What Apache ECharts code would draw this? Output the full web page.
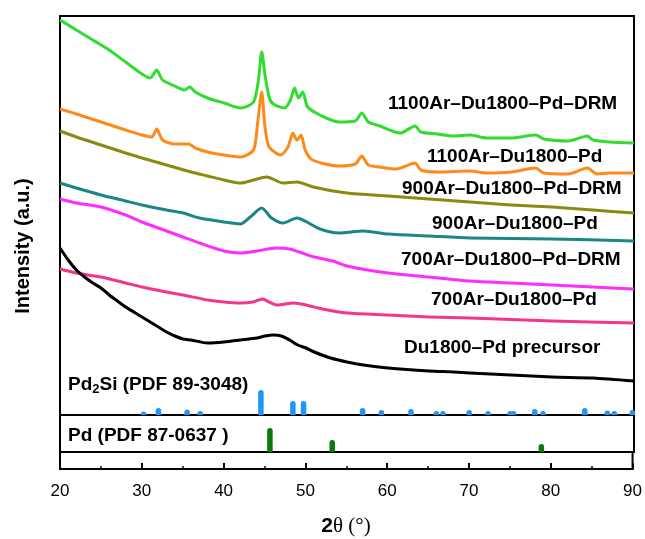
<!DOCTYPE html>
<html>
<head>
<meta charset="utf-8">
<script src="https://cdn.jsdelivr.net/npm/echarts@6/dist/echarts.min.js"></script>
<style>
html,body{margin:0;padding:0;background:#fff;}
#chart{width:645px;height:539px;}
</style>
</head>
<body>
<div id="chart"></div>
<script>
// [2θ (deg), intensity (a.u., offset-stacked)]
const s1100DRM = [[20,395],[22,385],[24,375],[26,365],[28,353],[30,341],[31,337],[31.8,345],[32.5,335],[34,329],[35.2,325],[35.8,328],[36.5,323],[38,317],[40,312],[42,307],[43.6,313],[44.2,335],[44.6,363],[45.0,340],[45.5,318],[46,311],[47.4,307],[48.1,315],[48.6,327],[49.1,317],[49.6,323],[50.2,308],[51.7,300],[54,293],[56,294],[56.8,302],[57.6,293],[59,289],[61.5,282],[63.3,289],[64,283],[66,281],[68,279],[70,280],[72,277],[75,277],[78,280],[79,276],[82,274],[84.3,279],[85,275],[87,273],[90,272]];
const s1100 = [[20,306],[22,301],[25,293],[28,285],[30,280],[31.2,278],[31.8,286],[32.5,275],[34,271],[35.7,271],[36.5,267],[38,263],[40,260],[42,258],[43.6,265],[44.1,292],[44.6,323],[45.0,288],[45.5,268],[46.9,260],[47.8,268],[48.4,282],[48.9,275],[49.4,280],[49.9,265],[50.8,255],[54,249],[56,251],[56.8,259],[57.6,250],[59,248],[61,246],[63.3,252],[64,245],[66,243],[70,244],[72,242],[75,243],[78,247],[79,242],[82,241],[84.3,247],[85.5,241],[87,242],[90,242]];
const s900DRM = [[20,284],[22,278],[25,270],[28,262],[30,257],[33,250],[36,243],[38,239],[40,235],[42,232],[45.2,238],[47.2,232],[48.9,233],[50.9,228],[55,222],[60,219],[65,216],[70,213],[75,210],[80,208],[85,205],[90,202]];
const s900 = [[20,232],[22,227],[25,220],[28,214],[30,210],[33,205],[35,202],[37,197],[40,193],[42,191],[43.2,198],[44.6,207],[45.8,197],[47.2,192],[48.9,197],[50.1,193],[51.7,186],[54,182],[57,184],[60,181],[65,179],[70,177],[80,176],[90,174]];
const s700DRM = [[20,216],[22,212],[25,208],[28,200],[30,193],[33,184],[35,178],[37,172],[40,164],[42,162],[44,164],[46.4,167],[48,166],[49.2,163],[51,158],[53.3,154],[55,149],[60,142],[65,138],[70,134],[75,132],[80,130],[85,128],[90,126]];
const s700 = [[20,146],[22,142],[25,138],[28,132],[30,128],[33,123],[35,120],[38,115],[40,113],[42,112],[43.5,113],[44.7,116],[45.5,113],[46.5,110],[48.5,112],[50,110],[52,106],[55,102],[60,100],[65,98],[70,97],[80,94],[90,92]];
const sPrecursor = [[20,167],[21,155],[22,145],[23,138],[24,132],[25,127],[26,120],[27,114],[28,108],[29,103],[30,98],[31,93],[32,88],[33,83],[34,79],[35,76],[36,75],[38,72],[40,73],[42,75],[44,77],[45,79],[46,80],[47,79],[48,75],[49,70],[50,67],[51,63],[53,57],[55,53],[57,50],[60,47],[65,44],[68,43],[70,42],[75,40],[80,38],[85,37],[90,34]];
// reference stick patterns
const pd2siSticks = [[30.2,3.5],[32.0,7],[35.5,5.5],[37.1,4],[44.5,25],[48.4,14],[49.7,14],[56.9,7],[59.2,5],[62.8,6],[65.9,4],[66.7,4],[69.9,5],[72.2,4],[74.9,4],[75.3,4],[77.9,6],[78.9,4],[84.0,7],[86.75,4.5],[87.6,4],[89.8,5]];
const pdSticks = [[45.6,24],[53.2,12],[78.7,8]];
const xTicks = [20,30,40,50,60,70,80,90];
const seriesNames = ['1100Ar–Du1800–Pd–DRM','1100Ar–Du1800–Pd','900Ar–Du1800–Pd–DRM','900Ar–Du1800–Pd','700Ar–Du1800–Pd–DRM','700Ar–Du1800–Pd','Du1800–Pd precursor'];
const refNames = ['Pd2Si (PDF 89-3048)','Pd (PDF 87-0637 )'];

const chart = echarts.init(document.getElementById('chart'));
const colors = ['#2fdc2f','#ff8a1c','#8a8a10','#1c8585','#ff2cff','#f5348c','#000000'];
const curves = [s1100DRM,s1100,s900DRM,s900,s700DRM,s700,sPrecursor];
const labelPos = [[388,104],[427,157],[402,189],[432,224],[401,260],[431,300],[404,348]];
const FONT = '"Liberation Sans", Arial, sans-serif';

const series = curves.map((d,i)=>({
  type:'line', name:seriesNames[i], data:d, xAxisIndex:0, yAxisIndex:0,
  showSymbol:false, smooth:0.25,
  lineStyle:{color:colors[i], width:3, join:'round'}, z:3
}));
series.push({type:'bar', name:refNames[0], data:pd2siSticks, xAxisIndex:0, yAxisIndex:0, barWidth:5.5,
  itemStyle:{color:'#1e98f5', borderRadius:[2.7,2.7,0,0]}, z:2});
series.push({type:'bar', name:refNames[1], data:pdSticks, xAxisIndex:1, yAxisIndex:1, barWidth:5.5,
  itemStyle:{color:'#0a7a0a', borderRadius:[2.7,2.7,0,0]}, z:2});

const graphics = seriesNames.map((n,i)=>({
  type:'text', x:labelPos[i][0], y:labelPos[i][1], z:10,
  style:{text:n, fill:'#000', font:'bold 19px '+FONT, textVerticalAlign:'middle'}
}));
graphics.push({type:'text', x:68, y:385, z:10,
  style:{text:'{a|Pd}{s|2}{a|Si (PDF 89-3048)}', fill:'#000', textVerticalAlign:'middle',
    rich:{a:{fontSize:19, fontWeight:'bold', fontFamily:FONT, lineHeight:22},
          s:{fontSize:13, fontWeight:'bold', fontFamily:FONT, lineHeight:13, verticalAlign:'bottom'}}}});
graphics.push({type:'text', x:68, y:436, z:10,
  style:{text:refNames[1], fill:'#000', font:'bold 19px '+FONT, textVerticalAlign:'middle'}});
graphics.push({type:'text', x:23, y:246, rotation:Math.PI/2, z:10,
  style:{text:'Intensity (a.u.)', fill:'#000', font:'bold 20px '+FONT, textAlign:'center', textVerticalAlign:'middle'}});
graphics.push({type:'text', x:346, y:526, z:10,
  style:{text:'{b|2}{t|θ (°)}', fill:'#000', textAlign:'center', textVerticalAlign:'middle',
    rich:{b:{fontSize:21, fontWeight:'bold', fontFamily:FONT},
          t:{fontSize:21, fontFamily:'"Liberation Serif", "Times New Roman", serif'}}}});

const gridBase = {left:60, right:11, show:true, borderColor:'#000', borderWidth:2, backgroundColor:'transparent'};
const hiddenX = (gi)=>({type:'value', gridIndex:gi, min:20, max:90, interval:10, show:false, splitLine:{show:false}});

chart.setOption({
  animation:false,
  backgroundColor:'#fff',
  grid:[
    Object.assign({top:16, height:399}, gridBase),
    Object.assign({top:415, height:37}, gridBase),
    Object.assign({top:452, height:17}, gridBase)
  ],
  xAxis:[
    hiddenX(0), hiddenX(1),
    {type:'value', gridIndex:2, min:xTicks[0], max:xTicks[xTicks.length-1], interval:10,
     axisLine:{show:true, lineStyle:{color:'#000', width:2}},
     axisTick:{show:true, inside:true, length:6, lineStyle:{color:'#000', width:2}},
     minorTick:{show:true, splitNumber:2, length:3, lineStyle:{color:'#000', width:1.5}},
     splitLine:{show:false}, minorSplitLine:{show:false},
     axisLabel:{fontSize:17, color:'#000', margin:14, fontFamily:FONT}}
  ],
  yAxis:[
    {type:'value', gridIndex:0, min:0, max:399, show:false, splitLine:{show:false}},
    {type:'value', gridIndex:1, min:0, max:37, show:false, splitLine:{show:false}},
    {type:'value', gridIndex:2, min:0, max:1, show:false, splitLine:{show:false}}
  ],
  series:series,
  graphic:graphics
});
</script>
</body>
</html>
